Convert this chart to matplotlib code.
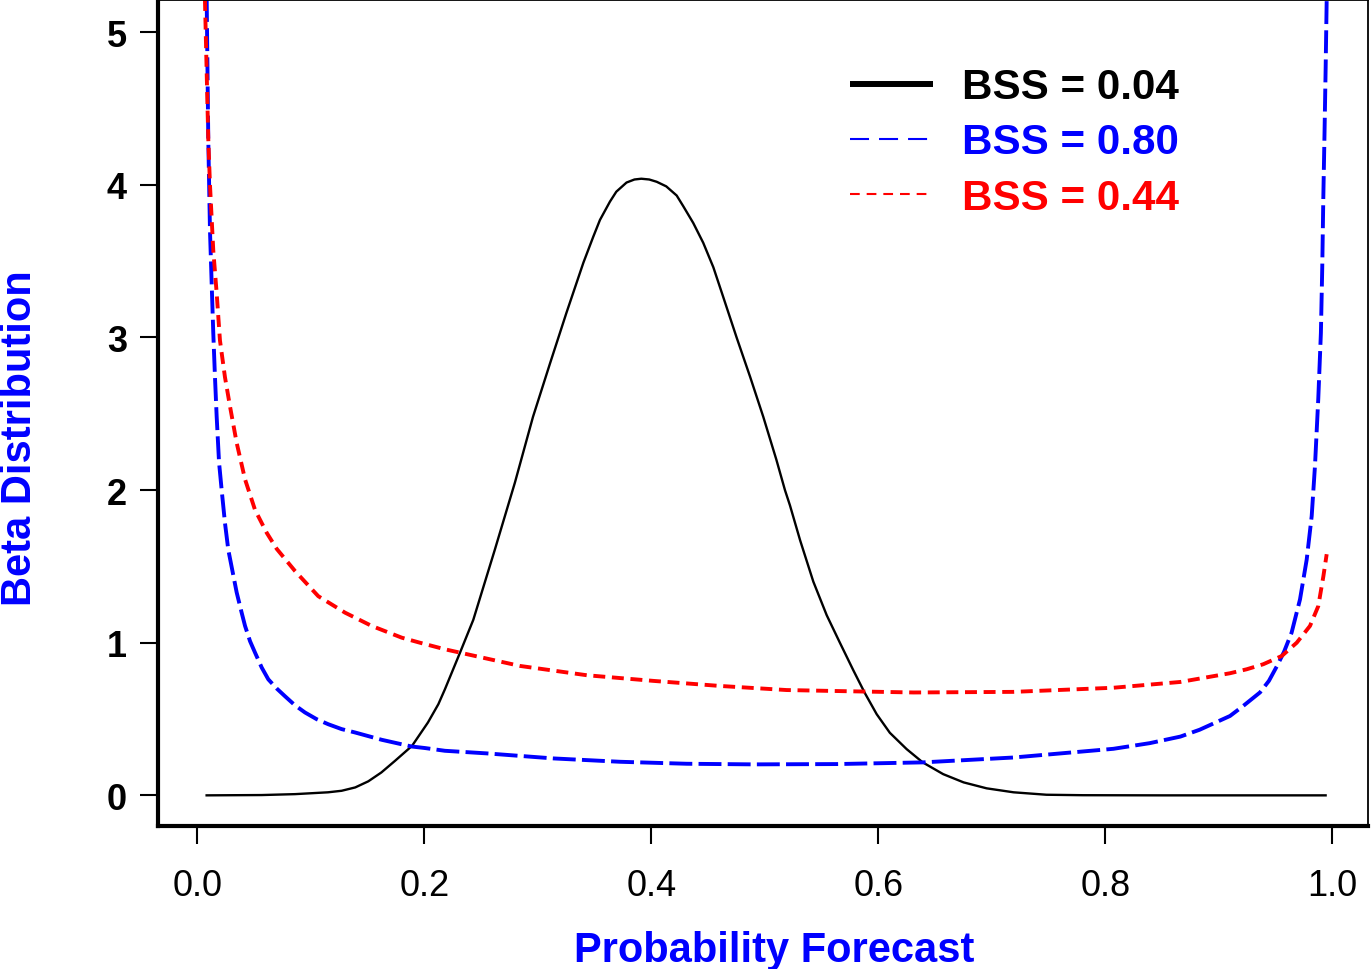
import matplotlib
matplotlib.use("Agg")
import matplotlib.pyplot as plt
from matplotlib.lines import Line2D

plt.rcParams['font.family'] = ['Liberation Sans', 'DejaVu Sans']
plt.rcParams['lines.scale_dashes'] = False

# ---- data ----
black_x = [0.007, 0.0566, 0.086, 0.115, 0.127, 0.139, 0.1505, 0.162, 0.174, 0.189,
           0.203, 0.2122, 0.218, 0.2313, 0.243, 0.262, 0.2797, 0.2956, 0.3106, 0.325,
           0.340, 0.3487, 0.3546, 0.3634, 0.369, 0.378, 0.385, 0.391, 0.398, 0.4046,
           0.413, 0.4222, 0.428, 0.4368, 0.4456, 0.4545, 0.463, 0.475, 0.487, 0.4985,
           0.510, 0.5176, 0.522, 0.531, 0.5426, 0.5544, 0.566, 0.5778, 0.588, 0.5984,
           0.610, 0.6248, 0.639, 0.657, 0.675, 0.6953, 0.719, 0.748, 0.78, 0.85,
           0.995]
black_y = [0.0, 0.002, 0.008, 0.02, 0.03, 0.052, 0.092, 0.15, 0.226, 0.324,
           0.477, 0.597, 0.695, 0.935, 1.15, 1.61, 2.05, 2.48, 2.83, 3.16,
           3.49, 3.66, 3.77, 3.89, 3.955, 4.015, 4.035, 4.04, 4.035, 4.02,
           3.99, 3.93, 3.86, 3.75, 3.62, 3.46, 3.27, 3.0, 2.74, 2.48,
           2.20, 2.0, 1.90, 1.67, 1.40, 1.18, 1.0, 0.82, 0.67, 0.532,
           0.41, 0.303, 0.216, 0.139, 0.085, 0.046, 0.02, 0.004, 0.001, 0.0,
           0.0]

blue_x = [0.0075, 0.0095, 0.011, 0.0125, 0.0139, 0.0154, 0.0169, 0.019, 0.0213, 0.0242,
          0.0271, 0.0345, 0.0389, 0.0419, 0.0463, 0.0507, 0.0566, 0.0624, 0.0698, 0.077,
          0.0859, 0.0947, 0.105, 0.1152, 0.127, 0.1388, 0.1623, 0.1887, 0.2004, 0.218,
          0.2548, 0.3135, 0.3722, 0.431, 0.4897, 0.5632, 0.639, 0.719, 0.807, 0.839,
          0.866, 0.883, 0.9097, 0.9214, 0.9361, 0.944, 0.9513, 0.9573, 0.964, 0.9714,
          0.9773, 0.9817, 0.9846, 0.9875, 0.9898, 0.991, 0.9919, 0.993, 0.994, 0.9949,
          0.9955]
blue_y = [5.6, 4.3, 3.7, 3.35, 3.03, 2.74, 2.48, 2.18, 2.0, 1.785,
          1.61, 1.33, 1.197, 1.11, 1.01, 0.935, 0.837, 0.76, 0.70, 0.65,
          0.59, 0.543, 0.499, 0.466, 0.434, 0.412, 0.364, 0.32, 0.31, 0.292,
          0.275, 0.242, 0.22, 0.207, 0.203, 0.205, 0.216, 0.248, 0.305, 0.342,
          0.385, 0.43, 0.52, 0.586, 0.674, 0.75, 0.85, 0.94, 1.066, 1.284,
          1.545, 1.83, 2.16, 2.6, 3.03, 3.46, 3.9, 4.34, 4.77, 5.21,
          5.6]

red_x = [0.005, 0.0066, 0.0095, 0.011, 0.0139, 0.0169, 0.0198, 0.0242, 0.0286, 0.0345,
         0.0419, 0.0507, 0.061, 0.0698, 0.0859, 0.1064, 0.13, 0.1535, 0.18, 0.196,
         0.218, 0.2313, 0.2841, 0.343, 0.4016, 0.460, 0.519, 0.560, 0.631, 0.719,
         0.807, 0.866, 0.9097, 0.9244, 0.939, 0.9553, 0.9685, 0.9802, 0.9875, 0.992,
         0.9949]
red_y = [5.9, 5.2, 4.3, 4.0, 3.57, 3.29, 2.98, 2.74, 2.55, 2.31,
         2.07, 1.87, 1.72, 1.615, 1.47, 1.305, 1.197, 1.11, 1.033, 1.0,
         0.957, 0.935, 0.848, 0.787, 0.75, 0.717, 0.69, 0.684, 0.674, 0.678,
         0.705, 0.743, 0.80, 0.826, 0.859, 0.913, 1.0, 1.11, 1.24, 1.436,
         1.58]

labels = ['BSS = 0.04', 'BSS = 0.80', 'BSS = 0.44']
x_ticks = [0.0, 0.2, 0.4, 0.6, 0.8, 1.0]
x_ticklabels = ['0.0', '0.2', '0.4', '0.6', '0.8', '1.0']
y_ticks = [0, 1, 2, 3, 4, 5]
y_ticklabels = ['0', '1', '2', '3', '4', '5']

BLUE = '#0000FF'
RED = '#FF0000'

fig = plt.figure(figsize=(13.72, 9.70), dpi=100)
ax = fig.add_axes([0.11516, 0.14742, 0.99708 - 0.11516, 0.9985 - 0.14742])

ax.plot(black_x, black_y, color='black', lw=1.7, solid_capstyle='butt',
        solid_joinstyle='round')
ax.plot(blue_x, blue_y, color=BLUE, lw=2.8, dashes=(16.5, 4.5), dash_capstyle='butt',
        dash_joinstyle='round')
ax.plot(red_x, red_y, color=RED, lw=2.8, dashes=(8.6, 4.8), dash_capstyle='butt',
        dash_joinstyle='round')

ax.set_xlim(-0.0348, 1.0313)
ax.set_ylim(-0.2008, 5.208)

ax.set_xticks(x_ticks)
ax.set_xticklabels(x_ticklabels, fontsize=26)
ax.set_yticks(y_ticks)
ax.set_yticklabels(y_ticklabels, fontsize=26, fontweight='bold')
ax.tick_params(axis='both', direction='out', length=13, width=1.5, color='black')
ax.tick_params(axis='x', pad=17)
ax.tick_params(axis='y', pad=9.5)

for side in ['left', 'bottom']:
    ax.spines[side].set_linewidth(3.0)
for side in ['top', 'right']:
    ax.spines[side].set_linewidth(1.3)

fig.text(0.5641, 0.020, 'Probability Forecast', color=BLUE, fontsize=30,
         fontweight='bold', ha='center', va='center')
fig.text(0.0146, 0.548, 'Beta Distribution', color=BLUE, fontsize=30,
         fontweight='bold', ha='center', va='center', rotation=90)

handles = [
    Line2D([], [], color='black', lw=4.3, solid_capstyle='butt'),
    Line2D([], [], color=BLUE, lw=1.5, dashes=(13.7, 7.2), dash_capstyle='butt'),
    Line2D([], [], color=RED, lw=1.5, dashes=(7.0, 5.0), dash_capstyle='butt'),
]
leg = ax.legend(handles, labels, loc='upper left', bbox_to_anchor=(0.572, 0.919),
                frameon=False, borderpad=0, borderaxespad=0, handlelength=1.98,
                handletextpad=0.68, labelspacing=0.36,
                prop={'size': 30.3, 'weight': 'bold'})
for t, c in zip(leg.get_texts(), ['black', BLUE, RED]):
    t.set_color(c)

fig.savefig('out.png', dpi=100)
